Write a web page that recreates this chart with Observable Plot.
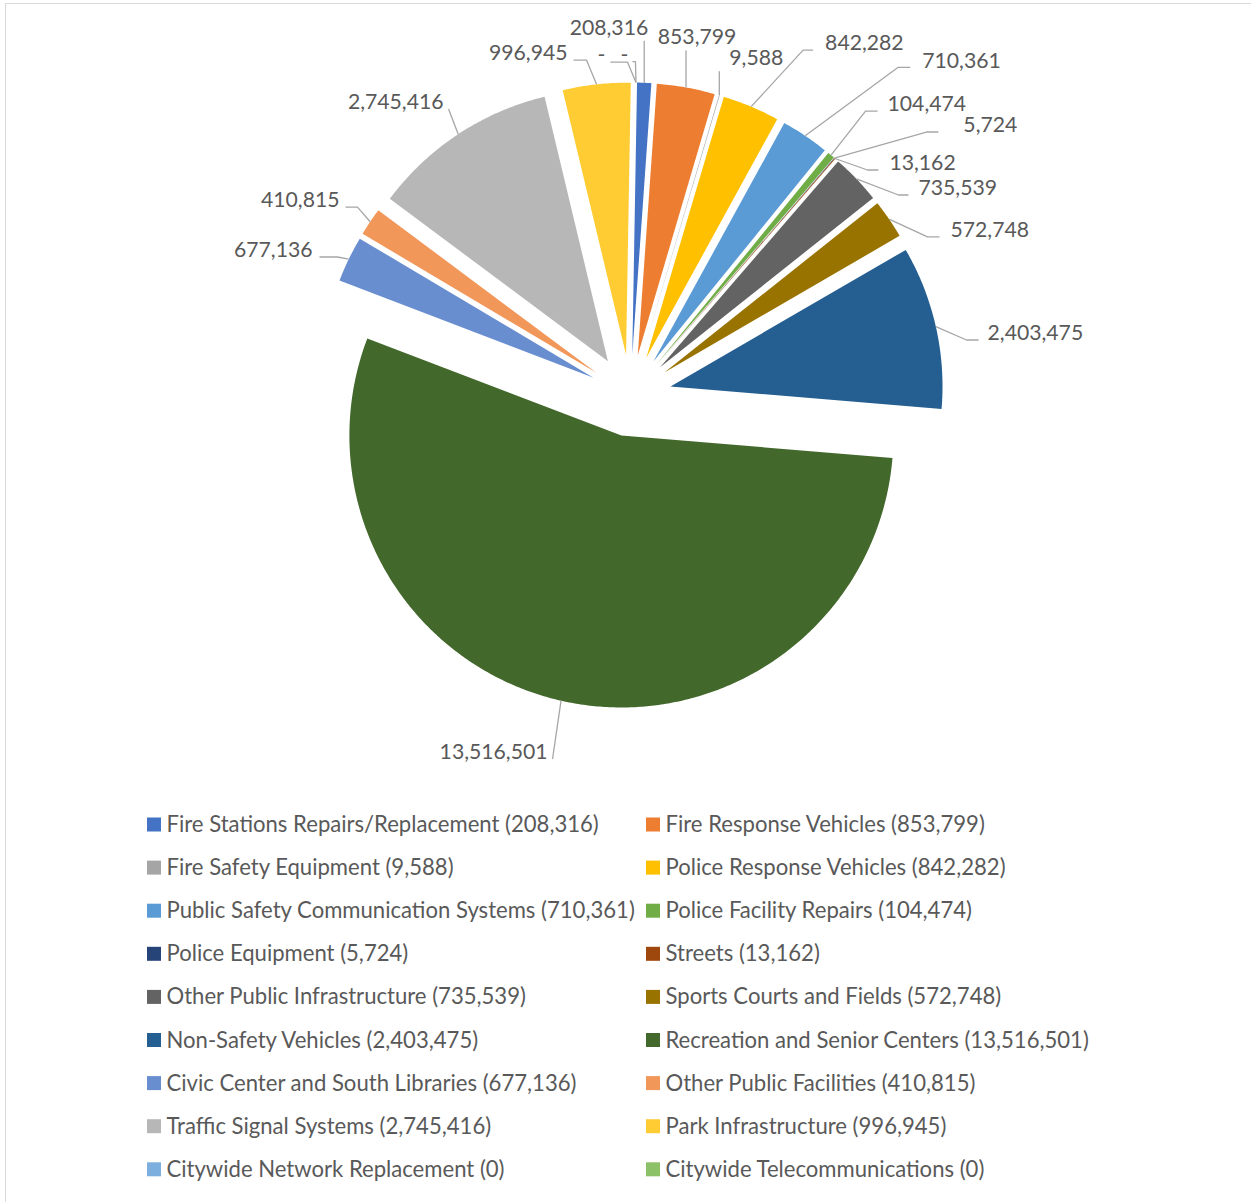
<!DOCTYPE html>
<html><head><meta charset="utf-8">
<script src="https://cdn.jsdelivr.net/npm/d3@7"></script>
<script src="https://cdn.jsdelivr.net/npm/@observablehq/plot@0.6"></script>
<style>
html,body{margin:0;padding:0;background:#fff;overflow:hidden;width:1251px;height:1202px;}
#chart{position:absolute;left:0;top:0;}
#frame{position:absolute;left:5px;top:3px;width:1400px;height:1400px;border-top:1.5px solid #d9d9d9;border-left:1.5px solid #d9d9d9;pointer-events:none;}
</style></head><body>
<div id="chart"></div><div id="frame"></div>
<script>
// ---- data ----
const categories = [
  "Fire Stations Repairs/Replacement",
  "Fire Response Vehicles",
  "Fire Safety Equipment",
  "Police Response Vehicles",
  "Public Safety Communication Systems",
  "Police Facility Repairs",
  "Police Equipment",
  "Streets",
  "Other Public Infrastructure",
  "Sports Courts and Fields",
  "Non-Safety Vehicles",
  "Recreation and Senior Centers",
  "Civic Center and South Libraries",
  "Other Public Facilities",
  "Traffic Signal Systems",
  "Park Infrastructure",
  "Citywide Network Replacement",
  "Citywide Telecommunications"
];
const values = [208316, 853799, 9588, 842282, 710361, 104474, 5724, 13162, 735539, 572748, 2403475, 13516501, 677136, 410815, 2745416, 996945, 0, 0];
const colors = ["#4472C4","#ED7D31","#A5A5A5","#FFC000","#5B9BD5","#70AD47","#264478","#9E480E","#636363","#997300","#255E91","#43682B","#698ED0","#F1975A","#B7B7B7","#FFCD33","#7CAFDD","#8CC168"];

// ---- layout (not data) ----
const W = 1251, H = 1202;
const CX = 630, CY = 395;        // pie centre in px
const R = 272, EXPLODE = 41;     // radius and explosion distance
const START = 1 * Math.PI / 180; // first slice angle
// label placement relative to the slice's outer anchor point
const labelLayout = [
  {dx: 4,    dy: -55,  align: "end",    up: true},
  {dx: 11,   dy: -50,  align: "middle", up: true},
  {dx: 10,   dy: -37,  align: "start",  up: true},
  {dx: 74,   dy: -63,  align: "start", gap: 12, seg: 10},
  {dx: 117,  dy: -75,  align: "start", gap: 12, seg: 12},
  {dx: 56.5, dy: -50.6,align: "start", gap: 10, seg: 12},
  {dx: 129,  dy: -32.5,align: "start", gap: 25, seg: 12},
  {dx: 54.5, dy: 5,    align: "start", gap: 11, seg: 11},
  {dx: 62,   dy: 9.6,  align: "start", gap: 10, seg: 10},
  {dx: 61.4, dy: 11.3, align: "start", gap: 11, seg: 12},
  {dx: 51.7, dy: 6.8,  align: "start", gap: 9,  seg: 12},
  {dx: -13.5,dy: 51.8, align: "end",   gap: 5,  seg: 0},
  {dx: -36.2,dy: -8.7, align: "end",   gap: 7,  seg: 18},
  {dx: -30.6,dy: -21.2,align: "end",   gap: 6,  seg: 12},
  {dx: -14.7,dy: -31.7,align: "end",   gap: 5,  seg: 0},
  {dx: -29,  dy: -30.8,align: "end",   gap: 6,  seg: 13},
  {dx: -30.5,dy: -27,  align: "end",   gap: 5,  seg: 17},
  {dx: -7.5, dy: -27.5,align: "end",   gap: 4,  seg: 3}
];
const legendColX = [147, 646], legendRow0 = 824.5, legendRowStep = 43.1, swatch = 14;

const fmt = d3.format(",");
const pie = d3.pie().sort(null).value(d => d).startAngle(START).endAngle(START + 2 * Math.PI);
const arcs = pie(values);
const slices = arcs.map((a, i) => ({
  i, name: categories[i], value: values[i],
  a0: a.startAngle, a1: a.endAngle, mid: (a.startAngle + a.endAngle) / 2
}));

// slice polygons
const polyPts = [];
slices.forEach(s => {
  if (s.value <= 0) return;
  const ox = EXPLODE * Math.sin(s.mid), oy = -EXPLODE * Math.cos(s.mid);
  polyPts.push({name: s.name, x: ox, y: oy});
  const n = Math.max(2, Math.ceil((s.a1 - s.a0) / (Math.PI / 360)));
  for (let k = 0; k <= n; k++) {
    const t = s.a0 + (s.a1 - s.a0) * k / n;
    polyPts.push({name: s.name, x: ox + R * Math.sin(t), y: oy - R * Math.cos(t)});
  }
  polyPts.push({name: s.name, x: ox, y: oy});
});

// labels and leaders
const labels = [], leaderPts = [];
slices.forEach(s => {
  const L = labelLayout[s.i];
  const ax = (R + EXPLODE) * Math.sin(s.mid), ay = -(R + EXPLODE) * Math.cos(s.mid);
  const tx = ax + L.dx, ty = ay + L.dy;
  labels.push({x: tx, y: ty, align: L.align, text: s.value === 0 ? "-" : fmt(s.value)});
  if (L.up) {
    leaderPts.push({k: s.i, x: ax, y: ay}, {k: s.i, x: ax, y: ty + 13});
  } else {
    const side = L.align === "start" ? -1 : 1;
    const ly = ty + 6.5;
    const p1x = tx + side * L.gap, p2x = p1x + side * L.seg;
    leaderPts.push({k: s.i, x: p1x, y: ly}, {k: s.i, x: p2x, y: ly}, {k: s.i, x: ax, y: ay});
  }
});

// legend
const legend = categories.map((name, i) => {
  const col = i % 2, row = Math.floor(i / 2);
  const x = legendColX[col] - CX, y = legendRow0 + row * legendRowStep - CY;
  return {name, x, y, label: `${name} (${fmt(values[i])})`};
});

const txt = (align) => Plot.text(labels.filter(d => d.align === align), {
  x: "x", y: "y", text: "text", textAnchor: align, lineAnchor: "middle",
  fill: "#595959", fontSize: 21.2
});

const chart = Plot.plot({
  width: W, height: H, margin: 0,
  x: {domain: [-CX, W - CX], range: [0, W], axis: null},
  y: {domain: [-CY, H - CY], range: [0, H], axis: null},
  color: {domain: categories, range: colors},
  style: {fontFamily: "Lato, 'Open Sans', sans-serif", fontSize: "20px", background: "transparent", color: "#595959"},
  marks: [
    Plot.line(polyPts, {x: "x", y: "y", z: "name", fill: "name", stroke: "none", curve: "linear"}),
    Plot.line(leaderPts, {x: "x", y: "y", z: "k", stroke: "#a6a6a6", strokeWidth: 1.3, curve: "linear", strokeLinecap: "butt"}),
    txt("start"), txt("end"), txt("middle"),
    Plot.rect(legend, {x1: "x", x2: d => d.x + swatch, y1: d => d.y - swatch / 2, y2: d => d.y + swatch / 2, fill: "name"}),
    Plot.text(legend, {x: d => d.x + swatch + 5, y: "y", text: "label", textAnchor: "start", lineAnchor: "middle", fill: "#595959", fontSize: 22.1})
  ]
});
document.getElementById("chart").appendChild(chart);
</script>
</body></html>
